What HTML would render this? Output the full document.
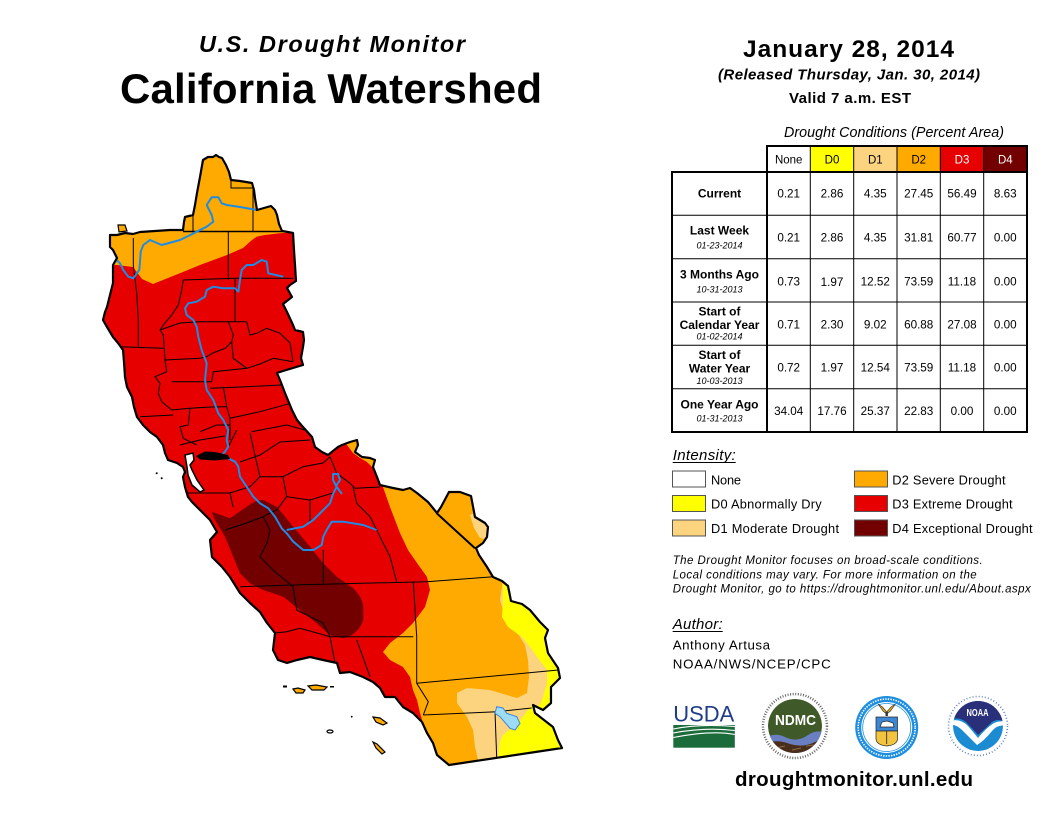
<!DOCTYPE html>
<html><head><meta charset="utf-8"><style>html,body{margin:0;padding:0;background:#fff}svg{display:block}</style></head>
<body>
<svg width="1056" height="816" viewBox="0 0 1056 816" xmlns="http://www.w3.org/2000/svg" font-family="'Liberation Sans', Arial, sans-serif">
<defs>
<polygon id="caShape" points="203,160 208,157 213,157 216,155 219,157 222,158 226,165 229,172 231,180 240,181 252,183 254,190 255,198 257,210 264,208 271,206 275,210 277,215 279,224 282,231 288,232 293,233 294,250 295,265 296,281 290,285 287,288 292,297 283,304 287,312 293,325 295,330 303,332 304,340 303,347 301,358 303,365 293,368 283,371 277,373 280,380 285,393 292,410 297,420 303,427 312,437 315,447 322,452 328,455 338,447 342,445 350,442 357,440 358,445 355,452 362,457 370,458 375,460 373,467 377,477 380,485 393,488 403,490 410,488 417,493 428,502 437,513 441,507 449,492 460,492 471,496 475,517 485,523 488,527 487,537 483,543 476,548 479,555 487,567 493,577 502,581 508,586 511,601 522,604 530,610 540,622 548,630 545,638 548,653 558,668 560,678 551,687 551,703 543,710 533,705 535,713 553,727 558,740 562,748 449,765 437,755 433,743 427,733 422,722 413,713 403,707 395,697 385,697 380,688 373,682 363,677 350,672 340,673 337,663 323,660 310,657 297,660 287,663 278,660 273,650 275,633 267,623 260,612 250,603 240,593 230,577 222,567 212,557 210,540 217,532 210,520 200,510 192,502 188,497 185,487 183,477 185,472 183,467 177,463 168,460 165,453 163,445 157,437 150,432 143,425 137,417 134,407 132,397 127,387 125,377 124,362 123,350 118,343 113,337 107,327 103,320 105,312 107,307 110,295 113,283 113,270 113,265 117,258 113,250 110,247 110,235 117,235 125,233 133,234 140,232 155,231 170,230 183,230 184,222 185,217 193,215 195,205 197,193 200,177"/>
<clipPath id="ca"><use href="#caShape"/></clipPath>
<clipPath id="ndmc"><circle cx="795" cy="726" r="27"/></clipPath>
<clipPath id="noaa"><circle cx="978" cy="726" r="25"/></clipPath>
</defs>

<!-- Titles -->
<text x="199" y="52" font-size="23.5" font-weight="bold" font-style="italic" textLength="266" lengthAdjust="spacing">U.S. Drought Monitor</text>
<text x="120" y="103" font-size="42" font-weight="bold" textLength="422" lengthAdjust="spacing">California Watershed</text>
<text x="743" y="57" font-size="24.5" font-weight="bold" textLength="211" lengthAdjust="spacing">January 28, 2014</text>
<text x="718" y="79.5" font-size="15" font-weight="bold" font-style="italic" textLength="262" lengthAdjust="spacing">(Released Thursday, Jan. 30, 2014)</text>
<text x="789" y="103" font-size="15" font-weight="bold" textLength="122" lengthAdjust="spacing">Valid 7 a.m. EST</text>

<!-- MAP -->
<use href="#caShape" fill="#E60000"/>
<g clip-path="url(#ca)">
  <!-- D2 north -->
  <polygon fill="#FFAA00" points="90,140 320,140 320,233 282,233 265,235 257,236.5 252,240 243,248 227,255 200,265 183,272 163,280 153,284 142,279 133,267 117,265 90,265"/>
  <!-- D2 east -->
  <polygon fill="#FFAA00" points="338,400 620,400 620,780 430,780 425,730 420,713 417,700 413,690 410,677 403,667 390,660 383,652 390,643 403,633 413,623 425,607 430,590 427,577 417,563 408,550 400,533 390,507 383,487 375,473 372,467 367,462 360,458 353,453 347,445 338,441"/>
  <!-- D1 -->
  <polygon fill="#FCD37F" points="470,515 476,512 492,518 492,540 480,538 474,528"/>
  <polygon fill="#FCD37F" points="498,560 503,580 500,600 505,617 513,627 520,637 525,645 528,660 529,677 527,693 517,698 490,690 467,688 457,693 457,703 467,717 473,730 475,747 478,760 478,780 620,780 620,560"/>
  <!-- D0 -->
  <polygon fill="#FFFF00" points="503,560 503,585 503,603 502,617 508,627 522,637 530,647 538,658 547,670 547,683 543,697 540,705 530,707 523,717 513,727 503,735 500,742 498,757 498,780 620,780 620,560"/>
  <!-- D4 -->
  <path fill="#730000" d="M211.7,511.7 L230,518.3 L246.7,506.7 Q255,500 263.3,500 L276.7,506.7 L293.3,526.7 L310,546.7 L323.3,563.3 L336.7,576.7 L353.3,588.3 Q363,598 363.3,608 L363.3,620 Q360,630 350,636 L343.3,638.3 L330,635 L316.7,623.3 L300,610 L283.3,596.7 L263.3,590 L250,583.3 L240,573.3 L233.3,556.7 L225,536.7 L215,520 Z"/>
  <!-- watershed lines -->
  <g fill="none" stroke="#000" stroke-width="1">
    <polyline stroke-width="1.6" points="183,231.5 282,231.5"/>
    <polyline points="193,210 193,231"/>
    <polyline points="231,181 231,188 253,188"/>
    <polyline points="253,183 253,231"/>
    <!-- north network -->
    <polyline points="228.3,231.7 228.3,280"/>
    <polyline points="183.3,280 235,278.3 293.3,278.3"/>
    <polyline points="183.3,280 181.7,290 178.3,305 171.7,315 163.3,325 160,330"/>
    <polyline points="235,278 235,321.7"/>
    <polyline points="160,330 180,323 200,321.7 228.3,321.7 246.7,321.7"/>
    <polyline points="246.7,321.7 250,335 256.7,333.3 266.7,328.3 280,333.3 290,343 293,361.7"/>
    <polyline points="228.3,321.7 233.3,335 231.7,341.7 225,348.3 213,353 206.7,356.7 200,358.3 165,360"/>
    <polyline points="231.7,341.7 233.3,358.3 246.7,368.3 260,364 273.3,358.3 293,361.7"/>
    <polyline points="133.3,238 133.3,265 136.7,293.3 138.3,320 138.3,346.7"/>
    <polyline points="120,346.7 163.3,348.3"/>
    <polyline points="160,330 163.3,335 165,360 166.7,371.7 155,376.7 160,383.3 158.3,393.3 161.7,401.7 171.7,410"/>
    <polyline points="171.7,381.7 211.7,381.7 213.3,371.7 246.7,368.3"/>
    <polyline points="210,388.3 246.7,386.7 281.7,385"/>
    <polyline points="223.3,386.7 226.7,406.7"/>
    <polyline points="171.7,410 190,408.3 210,407 226.7,406.7"/>
    <polyline points="140,416.7 173.3,415"/>
    <polyline points="190,408.3 188.3,425 180,426.7 183.3,438.3 196.7,445"/>
    <polyline points="230,418.3 260,411.7 296.7,401.7"/>
    <polyline points="226.7,406.7 230,418.3 230,440"/>
    <polyline points="251.7,431.7 286.7,425 305,430"/>
    <polyline points="200,431.7 216.7,425 230,425"/>
    <polyline points="180,445 200,440 225,436"/>
    <polyline points="240,462 260,455 280,442 310,440"/>
    <!-- middle / south -->
    <polyline points="236.7,430 226.7,450"/>
    <polyline points="250,433 256.7,463 260,476.7"/>
    <polyline points="260,476.7 283,476.7 303,466.7 323,463 330,456.7"/>
    <polyline points="185,493 200,493 230,493 250,486.7 260,476.7"/>
    <polyline points="230,493 233,507"/>
    <polyline points="283,477 286.7,496.7 310,500 333,493 336.7,488"/>
    <polyline points="286.7,496.7 276.7,510 263,516.7 246.7,523 225,530"/>
    <polyline points="263,516.7 270,530 267,543 260,556.7 273,570 293,586.7"/>
    <polyline points="310,500 310,523"/>
    <polyline points="323.3,550 323.3,583"/>
    <polyline points="293,586.7 296.7,610 310,616.7 323,623 330,636.7"/>
    <polyline points="240,586.7 293,585 426.7,581.7 493.3,576.7"/>
    <polyline points="353,486.7 356.7,503.3 370,516.7 380,536.7 390,556.7 396.7,581.7"/>
    <polyline points="330,456.7 336.7,473.3 350,483.3 355,488.3 380,487"/>
    <polyline points="413.3,581.7 416.7,636.7 416.7,683.3"/>
    <polyline points="275,633 286.7,631.7 300,628.3 330,636.7 413.3,636.7"/>
    <polyline points="330,636.7 335,663"/>
    <polyline points="356.7,640 370,676.7"/>
    <polyline points="416.7,683.3 558.3,670"/>
    <polyline points="416.7,683.3 428.3,701.7 423.3,715"/>
    <polyline points="423.3,715 496.7,711.7 531.7,708"/>
    <polyline points="495,711.7 496.7,758"/>
    <polyline stroke-width="2" points="436.7,513.3 475,548.3"/>
  </g>
</g>
<!-- rivers -->
<g fill="none" stroke="#1E8CE6" stroke-width="2" stroke-linejoin="round">
  <polyline points="256.7,210 240,207 226.7,205 221.7,203.3 218.3,197.3 211.7,197.3 206.7,205 211.7,215 213.3,221.7 206.7,226.7 196.7,231.7 188.3,236 180,240 161.7,245 150,240 143.3,245 140.7,251.7 140,261.7 139.3,270 133.3,278.3 128.3,276.7 123.3,270 120,263.3 116.7,260"/>
  <polyline points="283.3,276.7 268.3,273.3 266.7,261.7 261.7,260 253.3,265 246.7,265 241.7,270 240,280 238.3,291.7 235,288.3 223.3,288.3 213.3,286.7 206.7,290 205,296.7 196.7,301.7 188.3,303.3 185,308.3 186.7,315 193.3,320 196.7,326.7 198.3,336.7 201.7,350 206.7,363.3 205,380 206.7,390 213.3,400 218.3,413.3 223.3,420 228.3,430 226.7,440 228.3,446.7 225,451.7 221.7,455"/>
  <polyline points="228.3,458.3 235,461.7 238.3,466.7 240,476.7 246.7,486.7 253.3,496.7 260,503.3 268.3,508.3 275,516.7 281.7,528.3 286.7,533.3 293.3,541.7 303.3,550 313.3,550 321.7,545 323.3,536.7 326.7,530 331.7,521.7 343.3,521.7 363.3,525 376.7,530"/>
  <polyline points="286.7,530 303.3,526.7 313.3,520 323.3,510 330,503.3 333.3,493.3 336.7,487 333,480 333,474 338,474 340,480 336,486 342,494"/>
</g>
<!-- bay & delta -->
<polygon points="185,455 193,453 194,460 190,465 192,470 197,480 204,490 200,492 192,485 188,475 187,467" fill="#fff" stroke="#000" stroke-width="1.5"/>
<polygon points="196,456 205,451.5 215,452 228,455 230,459 215,460.5 200,459.5" fill="#000"/>
<!-- Salton sea -->
<polygon points="496.7,706.7 503,708 506.7,713.3 516.7,716.7 520,723.3 515,730 510,728.3 500,716.7 495,713.3" fill="#9DDCF5" stroke="#3C84E0" stroke-width="1"/>
<!-- outline -->
<use href="#caShape" fill="none" stroke="#000" stroke-width="2.2" stroke-linejoin="round"/>
<!-- islands -->
<g fill="#FFAA00" stroke="#000" stroke-width="1.2">
  <polygon points="118,225 125,225 127,231 119,232"/>
  <polygon points="293,689 298,688 305,690 303,693 296,693"/>
  <polygon points="308,686 316,685 327,687 324,690 312,690"/>
  <polygon points="373,717 380,718 387,723 383,725 376,722"/>
  <polygon points="373,742 377,744 385,752 382,754 376,748"/>
  <ellipse cx="330" cy="731.5" rx="3" ry="1.5" fill="#fff"/>
</g>
<g fill="#000">
  <rect x="283" y="685.5" width="4" height="2"/>
  <rect x="330" y="686" width="4" height="1.5"/>
  <circle cx="351.7" cy="716.7" r="0.9"/>
  <circle cx="156.7" cy="473.3" r="1"/>
  <circle cx="161.7" cy="478.3" r="1"/>
</g>

<!-- TABLE -->
<text x="784" y="137" font-size="14.3" font-style="italic" textLength="220" lengthAdjust="spacing">Drought Conditions (Percent Area)</text>
<rect x="767" y="146" width="43.3" height="26" fill="#fff"/>
<rect x="810.3" y="146" width="43.4" height="26" fill="#FFFF00"/>
<rect x="853.7" y="146" width="43.3" height="26" fill="#FCD37F"/>
<rect x="897" y="146" width="43.3" height="26" fill="#FFAA00"/>
<rect x="940.3" y="146" width="43.4" height="26" fill="#E60000"/>
<rect x="983.7" y="146" width="43.3" height="26" fill="#730000"/>
<g stroke="#000" fill="none">
  <rect x="767" y="146" width="260" height="26" stroke-width="2"/>
  <rect x="672" y="172" width="355" height="260" stroke-width="2"/>
  <line x1="767" y1="146" x2="767" y2="432" stroke-width="2"/>
  <g stroke-width="1">
    <line x1="810.3" y1="146" x2="810.3" y2="432"/>
    <line x1="853.7" y1="146" x2="853.7" y2="432"/>
    <line x1="897" y1="146" x2="897" y2="432"/>
    <line x1="940.3" y1="146" x2="940.3" y2="432"/>
    <line x1="983.7" y1="146" x2="983.7" y2="432"/>
    <line x1="672" y1="215.3" x2="1027" y2="215.3"/>
    <line x1="672" y1="258.7" x2="1027" y2="258.7"/>
    <line x1="672" y1="302" x2="1027" y2="302"/>
    <line x1="672" y1="345.3" x2="1027" y2="345.3"/>
    <line x1="672" y1="388.7" x2="1027" y2="388.7"/>
  </g>
</g>
<g font-size="11.5" text-anchor="middle">
  <text x="788.7" y="163.5">None</text>
  <text x="832" y="163.5">D0</text>
  <text x="875.3" y="163.5">D1</text>
  <text x="918.7" y="163.5">D2</text>
  <text x="962" y="163.5" fill="#fff">D3</text>
  <text x="1005.3" y="163.5" fill="#fff">D4</text>
</g>
<g font-size="11.7" text-anchor="middle">
  <text x="788.7" y="197.5">0.21</text><text x="832" y="197.5">2.86</text><text x="875.3" y="197.5">4.35</text><text x="918.7" y="197.5">27.45</text><text x="962" y="197.5">56.49</text><text x="1005.3" y="197.5">8.63</text>
  <text x="788.7" y="241.7">0.21</text><text x="832" y="241.7">2.86</text><text x="875.3" y="241.7">4.35</text><text x="918.7" y="241.7">31.81</text><text x="962" y="241.7">60.77</text><text x="1005.3" y="241.7">0.00</text>
  <text x="788.7" y="285.3">0.73</text><text x="832" y="285.8">1.97</text><text x="875.3" y="285.3">12.52</text><text x="918.7" y="285.3">73.59</text><text x="962" y="285.3">11.18</text><text x="1005.3" y="285.3">0.00</text>
  <text x="788.7" y="328.5">0.71</text><text x="832" y="328.5">2.30</text><text x="875.3" y="328.5">9.02</text><text x="918.7" y="328.5">60.88</text><text x="962" y="328.5">27.08</text><text x="1005.3" y="328.5">0.00</text>
  <text x="788.7" y="371.7">0.72</text><text x="832" y="371.7">1.97</text><text x="875.3" y="371.7">12.54</text><text x="918.7" y="371.7">73.59</text><text x="962" y="371.7">11.18</text><text x="1005.3" y="371.7">0.00</text>
  <text x="788.7" y="415">34.04</text><text x="832" y="415">17.76</text><text x="875.3" y="415">25.37</text><text x="918.7" y="415">22.83</text><text x="962" y="415">0.00</text><text x="1005.3" y="415">0.00</text>
</g>
<g font-size="12" font-weight="bold" text-anchor="middle">
  <text x="719.5" y="197.5">Current</text>
  <text x="719.5" y="234.3">Last Week</text>
  <text x="719.5" y="278.3">3 Months Ago</text>
  <text x="719.5" y="315.7">Start of</text>
  <text x="719.5" y="329">Calendar Year</text>
  <text x="719.5" y="359">Start of</text>
  <text x="719.5" y="372.3">Water Year</text>
  <text x="719.5" y="408.3">One Year Ago</text>
</g>
<g font-size="9" font-style="italic" text-anchor="middle">
  <text x="719.5" y="248.3">01-23-2014</text>
  <text x="719.5" y="292.3">10-31-2013</text>
  <text x="719.5" y="339.3">01-02-2014</text>
  <text x="719.5" y="384">10-03-2013</text>
  <text x="719.5" y="421.7">01-31-2013</text>
</g>

<!-- LEGEND -->
<text x="672.7" y="460" font-size="15" font-style="italic" textLength="63" lengthAdjust="spacing">Intensity:</text>
<line x1="672.7" y1="462.5" x2="735.7" y2="462.5" stroke="#000" stroke-width="1"/>
<g stroke="#555" stroke-width="1">
  <rect x="672.5" y="471" width="33" height="16" fill="#fff"/>
  <rect x="672.5" y="495.5" width="33" height="16" fill="#FFFF00"/>
  <rect x="672.5" y="520" width="33" height="16" fill="#FCD37F"/>
  <rect x="854.5" y="471" width="33" height="16" fill="#FFAA00"/>
  <rect x="854.5" y="495.5" width="33" height="16" fill="#E60000"/>
  <rect x="854.5" y="520" width="33" height="16" fill="#730000"/>
</g>
<g font-size="12.8">
  <text x="711" y="484.3" textLength="30" lengthAdjust="spacing">None</text>
  <text x="711" y="508.5" textLength="110.7" lengthAdjust="spacing">D0 Abnormally Dry</text>
  <text x="711" y="532.8" textLength="128" lengthAdjust="spacing">D1 Moderate Drought</text>
  <text x="892.3" y="484.3" textLength="113.3" lengthAdjust="spacing">D2 Severe Drought</text>
  <text x="892.3" y="508.5" textLength="120.3" lengthAdjust="spacing">D3 Extreme Drought</text>
  <text x="892.3" y="532.8" textLength="140.3" lengthAdjust="spacing">D4 Exceptional Drought</text>
</g>
<g font-size="11.5" font-style="italic">
  <text x="672.7" y="564" textLength="310" lengthAdjust="spacing">The Drought Monitor focuses on broad-scale conditions.</text>
  <text x="672.7" y="578.3" textLength="304" lengthAdjust="spacing">Local conditions may vary. For more information on the</text>
  <text x="672.7" y="592.7" textLength="358" lengthAdjust="spacing">Drought Monitor, go to https://droughtmonitor.unl.edu/About.aspx</text>
</g>
<text x="672.7" y="629" font-size="15" font-style="italic" textLength="50" lengthAdjust="spacing">Author:</text>
<line x1="672.7" y1="631.5" x2="722.7" y2="631.5" stroke="#000" stroke-width="1"/>
<text x="672.7" y="649.3" font-size="13.3" textLength="97.3" lengthAdjust="spacing">Anthony Artusa</text>
<text x="672.7" y="668.3" font-size="13.3" textLength="158" lengthAdjust="spacing">NOAA/NWS/NCEP/CPC</text>

<!-- LOGOS -->
<text x="673.3" y="721.7" font-size="22.5" fill="#1F3C88" textLength="61" lengthAdjust="spacingAndGlyphs">USDA</text>
<rect x="673.3" y="725" width="61.5" height="22.7" fill="#1C6B3A"/>
<g fill="none" stroke="#fff" stroke-width="1.1">
  <path d="M673.3,729 Q700,723.5 734.8,726.5"/>
  <path d="M673.3,733 Q705,727 734.8,730.5"/>
  <path d="M673.3,737.5 Q712,730 734.8,734.5"/>
</g>
<circle cx="795" cy="726" r="32" fill="#fff" stroke="#666" stroke-width="2.5" stroke-dasharray="1 1.6"/>
<g clip-path="url(#ndmc)">
  <circle cx="795" cy="726" r="27" fill="#3F5A28"/>
  <path d="M765,738 Q775,732 785,737 Q797,743 808,735 Q817,729 826,733 L826,760 L765,760 Z" fill="#6A7EC2"/>
  <path d="M765,743 Q778,739 790,744 Q803,748 815,742 Q821,739 826,740 L826,760 L765,760 Z" fill="#4A2E1C"/>
  <path d="M775,748 L785,746 M792,750 L801,748 M806,746 L814,745" stroke="#8A6A4A" stroke-width="1"/>
</g>
<text x="795.5" y="725" font-size="15" font-weight="bold" fill="#fff" text-anchor="middle" textLength="41" lengthAdjust="spacingAndGlyphs">NDMC</text>
<circle cx="886.7" cy="727.5" r="31.5" fill="#1E8FE0"/>
<circle cx="886.7" cy="727.5" r="28.5" fill="none" stroke="#fff" stroke-width="1.6" stroke-dasharray="1.4 1.2"/>
<circle cx="886.7" cy="727.5" r="25.5" fill="#fff"/>
<circle cx="886.7" cy="727.5" r="24" fill="none" stroke="#1E8FE0" stroke-width="0.8"/>
<path d="M878,704 L883,711 L886.7,714 L890.5,711 L895.5,704 L891,707 L886.7,712 L882.5,707 Z" fill="#E0B020" stroke="#222" stroke-width="0.6"/>
<rect x="885.5" y="712" width="2.4" height="4" fill="#333"/>
<rect x="876" y="717" width="21.5" height="14" fill="#3C86D6" stroke="#222" stroke-width="0.7"/>
<path d="M880,727 L882,722 L887,721 L893,723 L894,727 Z" fill="#fff" stroke="#222" stroke-width="0.7"/>
<path d="M876,731 L897.5,731 L897.5,739 Q897,745 886.7,746 Q876.5,745 876,739 Z" fill="#F2C440" stroke="#222" stroke-width="0.7"/>
<line x1="886.7" y1="731" x2="886.7" y2="744" stroke="#222" stroke-width="0.8"/>
<circle cx="978" cy="726" r="29.5" fill="#fff" stroke="#5577B8" stroke-width="1.6" stroke-dasharray="0.9 2.2"/>
<g clip-path="url(#noaa)">
  <circle cx="978" cy="726" r="25" fill="#1B8BD2"/>
  <path d="M950,700 L1006,700 L1006,722 Q998,718 992,722 Q986,728 978,735 Q972,728 966,722 Q958,716 950,720 Z" fill="#2A2F7A"/>
  <path d="M950,721 Q960,718 968,726 Q974,733 978,738 Q986,728 994,723 Q1000,720 1006,722 L1006,726 Q998,724 992,731 Q984,741 977,745 Q970,738 962,730 Q956,724 950,725 Z" fill="#fff"/>
</g>
<text x="977.5" y="716" font-size="10" font-weight="bold" fill="#fff" text-anchor="middle" textLength="22" lengthAdjust="spacingAndGlyphs">NOAA</text>

<text x="735" y="786" font-size="20.5" font-weight="bold" textLength="238" lengthAdjust="spacing">droughtmonitor.unl.edu</text>
</svg>
</body></html>
